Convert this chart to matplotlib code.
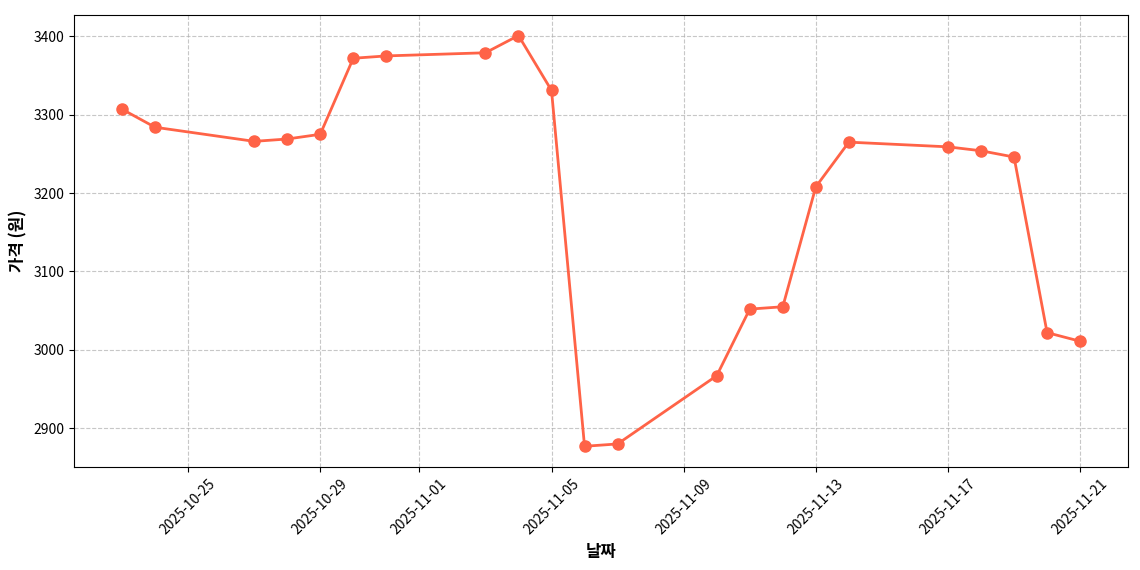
import numpy as np
import pandas as pd
import matplotlib
matplotlib.use("Agg")
import matplotlib.pyplot as plt

plt.rcParams['font.family'] = ['Noto Sans CJK KR', 'DejaVu Sans']
plt.rcParams['axes.unicode_minus'] = False

dates = ["2025-10-23", "2025-10-24", "2025-10-27", "2025-10-28", "2025-10-29",
         "2025-10-30", "2025-10-31", "2025-11-03", "2025-11-04", "2025-11-05",
         "2025-11-06", "2025-11-07", "2025-11-10", "2025-11-11", "2025-11-12",
         "2025-11-13", "2025-11-14", "2025-11-17", "2025-11-18", "2025-11-19",
         "2025-11-20", "2025-11-21"]
prices = [3307, 3284, 3266, 3269, 3275,
          3372, 3375, 3379, 3401, 3331,
          2877, 2880, 2967, 3052, 3055,
          3208, 3265, 3259, 3254, 3246,
          3022, 3011]

def main():
    x = pd.to_datetime(dates)
    fig, ax = plt.subplots(figsize=(11.4, 5.7), dpi=100)
    ax.plot(x, prices, color='#FF6347', linewidth=2, marker='o', markersize=8)
    ax.grid(True, linestyle='--', alpha=0.7)
    ax.set_xlabel("날짜", fontsize=12, fontweight='bold')
    ax.set_ylabel("가격 (원)", fontsize=12, fontweight='bold')
    plt.xticks(rotation=45)
    fig.subplots_adjust(left=0.065, right=0.9895, top=0.9737, bottom=0.181)
    plt.savefig("out.png", dpi=100)

main()
